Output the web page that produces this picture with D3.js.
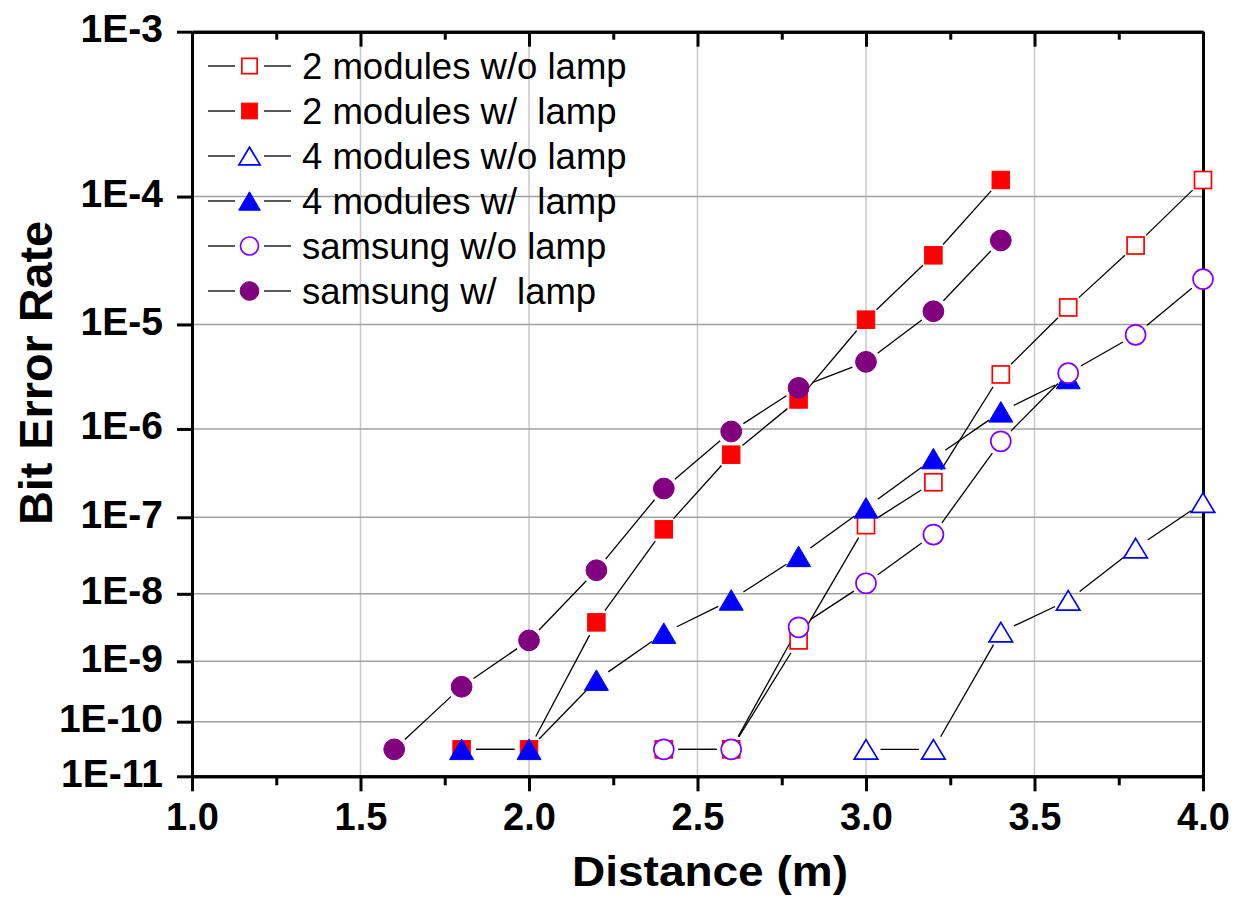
<!DOCTYPE html>
<html>
<head>
<meta charset="utf-8">
<script src="https://cdn.jsdelivr.net/npm/d3@7"></script>
<style>
  html, body { margin: 0; padding: 0; background: #fff; }
  svg { display: block; font-family: "Liberation Sans", Arial, sans-serif; }
</style>
</head>
<body>
<svg id="chart" width="1236" height="912"></svg>
<script>
// distance (m) and bit error rate for each curve
var dist2woLamp = [2.4, 2.6, 2.8, 3.0, 3.2, 3.4, 3.6, 3.8, 4.0];
var ber2woLamp = [3.2e-11, 3.2e-11, 2.1e-9, 8.0e-8, 2.6e-7, 3.5e-6, 1.4e-5, 4.4e-5, 1.3e-4];

var dist2wLamp = [1.8, 2.0, 2.2, 2.4, 2.6, 2.8, 3.0, 3.2, 3.4];
var ber2wLamp = [3.2e-11, 3.2e-11, 3.9e-9, 7.1e-8, 5.3e-7, 2.0e-6, 1.1e-5, 3.7e-5, 1.3e-4];

var dist4woLamp = [3.0, 3.2, 3.4, 3.6, 3.8, 4.0];
var ber4woLamp = [3.2e-11, 3.2e-11, 2.8e-9, 8.1e-9, 4.1e-8, 1.5e-7];

var dist4wLamp = [1.8, 2.0, 2.2, 2.4, 2.6, 2.8, 3.0, 3.2, 3.4, 3.6];
var ber4wLamp = [3.2e-11, 3.2e-11, 5.0e-10, 2.7e-9, 8.2e-9, 3.2e-8, 1.3e-7, 4.8e-7, 1.5e-6, 3.2e-6];

var distSamWo = [2.4, 2.6, 2.8, 3.0, 3.2, 3.4, 3.6, 3.8, 4.0];
var berSamWo = [3.2e-11, 3.2e-11, 3.3e-9, 1.4e-8, 6.1e-8, 7.4e-7, 3.6e-6, 8.1e-6, 2.4e-5];

var distSamW = [1.6, 1.8, 2.0, 2.2, 2.4, 2.6, 2.8, 3.0, 3.2, 3.4];
var berSamW = [3.2e-11, 3.9e-10, 2.1e-9, 2.1e-8, 2.2e-7, 9.4e-7, 2.6e-6, 4.6e-6, 1.3e-5, 4.8e-5];

var seriesNames = ['2 modules w/o lamp', '2 modules w/  lamp', '4 modules w/o lamp',
  '4 modules w/  lamp', 'samsung w/o lamp', 'samsung w/  lamp'];

var xMajorTicks = [1.0, 1.5, 2.0, 2.5, 3.0, 3.5, 4.0];
var xMinorTicks = [1.25, 1.75, 2.25, 2.75, 3.25, 3.75];
// exponents of the decade ticks: 1E-3 ... 1E-11
var yExponents = [3, 4, 5, 6, 7, 8, 9, 10, 11];

var series = [
  { name: seriesNames[0], xs: dist2woLamp, ys: ber2woLamp, shape: 'square', filled: false, color: '#ff0000' },
  { name: seriesNames[1], xs: dist2wLamp, ys: ber2wLamp, shape: 'square', filled: true, color: '#ff0000' },
  { name: seriesNames[2], xs: dist4woLamp, ys: ber4woLamp, shape: 'triangle', filled: false, color: '#0000ff' },
  { name: seriesNames[3], xs: dist4wLamp, ys: ber4wLamp, shape: 'triangle', filled: true, color: '#0000ff' },
  { name: seriesNames[4], xs: distSamWo, ys: berSamWo, shape: 'circle', filled: false, color: '#8000ff' },
  { name: seriesNames[5], xs: distSamW, ys: berSamW, shape: 'circle', filled: true, color: '#800080' }
];

var svg = d3.select('#chart');
var plotLeft = 192, plotRight = 1203, plotTop = 31.7, plotBottom = 776.3;

var x = d3.scaleLinear().domain([1, 4]).range([plotLeft, plotRight]);
// BER axis is log(-log(BER)): a log scale on the exponent
var yExp = d3.scaleLog().domain([3, 11]).range([plotTop, plotBottom]);
function y(ber) { return yExp(-Math.log10(ber)); }

svg.append('rect').attr('width', 1236).attr('height', 912).attr('fill', '#fff');

// grid
svg.append('g').selectAll('line')
  .data(xMajorTicks.slice(1, -1))
  .enter().append('line')
  .attr('x1', d => x(d)).attr('x2', d => x(d))
  .attr('y1', plotTop).attr('y2', plotBottom)
  .style('stroke', '#c8c8c8').style('stroke-width', 1.5);

svg.append('g').selectAll('line')
  .data(yExponents.slice(1, -1))
  .enter().append('line')
  .attr('x1', plotLeft).attr('x2', plotRight)
  .attr('y1', d => yExp(d)).attr('y2', d => yExp(d))
  .style('stroke', '#a0a0a0').style('stroke-width', 1.5);

// axes
function styleAxis(g) {
  g.select('.domain').style('stroke', '#000').style('stroke-width', 3);
  g.selectAll('.tick line').style('stroke', '#000').style('stroke-width', 3);
  g.selectAll('text').style('font-weight', 'bold').style('fill', '#000')
    .style('font-family', '"Liberation Sans", Arial, sans-serif');
}

svg.append('g').attr('transform', 'translate(0,' + plotBottom + ')')
  .call(d3.axisBottom(x).tickValues(xMinorTicks).tickSize(9).tickSizeOuter(0).tickFormat(''))
  .call(styleAxis);
svg.append('g').attr('transform', 'translate(0,' + plotBottom + ')')
  .call(d3.axisBottom(x).tickValues(xMajorTicks).tickSize(15).tickSizeOuter(0)
    .tickPadding(12).tickFormat(d3.format('.1f')))
  .call(styleAxis)
  .selectAll('text').style('font-size', '38px');

svg.append('g').attr('transform', 'translate(0,' + plotTop + ')')
  .call(d3.axisTop(x).tickValues(xMinorTicks).tickSize(-8).tickSizeOuter(0).tickFormat(''))
  .call(styleAxis);
svg.append('g').attr('transform', 'translate(0,' + plotTop + ')')
  .call(d3.axisTop(x).tickValues(xMajorTicks).tickSize(-15).tickSizeOuter(0).tickFormat(''))
  .call(styleAxis);

svg.append('g').attr('transform', 'translate(' + plotLeft + ',0)')
  .call(d3.axisLeft(yExp).tickValues(yExponents).tickSize(15).tickSizeOuter(0)
    .tickPadding(14).tickFormat(d => '1E-' + d))
  .call(styleAxis)
  .selectAll('text').style('font-size', '39px').attr('dy', '0.25em');

svg.append('g').attr('transform', 'translate(' + plotRight + ',0)')
  .call(d3.axisRight(yExp).tickValues([]).tickSizeOuter(0))
  .call(styleAxis);

// axis titles
svg.append('text')
  .attr('transform', 'translate(52,373) rotate(-90)')
  .attr('text-anchor', 'middle')
  .attr('textLength', 304).attr('lengthAdjust', 'spacingAndGlyphs')
  .style('font-size', '47px').style('font-weight', 'bold')
  .text('Bit Error Rate');

svg.append('text')
  .attr('x', 710).attr('y', 886)
  .attr('text-anchor', 'middle')
  .attr('textLength', 276).attr('lengthAdjust', 'spacingAndGlyphs')
  .style('font-size', '43px').style('font-weight', 'bold')
  .text('Distance (m)');

// markers
function drawMarker(g, s, cx, cy, k) {
  var fill = s.filled ? s.color : '#fff';
  var w = s.filled ? 1 : 1.7;
  if (s.shape === 'square') {
    var a = (s.filled ? 17.5 : 17) * k;
    g.append('rect').attr('x', cx - a / 2).attr('y', cy - a / 2)
      .attr('width', a).attr('height', a)
      .style('fill', fill).style('stroke', s.color).style('stroke-width', w);
  } else if (s.shape === 'circle') {
    var r = (s.filled ? 10.4 : 10) * k;
    g.append('circle').attr('cx', cx).attr('cy', cy).attr('r', r)
      .style('fill', fill).style('stroke', s.color).style('stroke-width', w);
  } else {
    var tw = (s.filled ? 24 : 23.5) * k, th = (s.filled ? 20.5 : 19.5) * k;
    g.append('path')
      .attr('d', 'M' + cx + ',' + (cy - th / 2) + 'L' + (cx + tw / 2) + ',' + (cy + th / 2) +
        'L' + (cx - tw / 2) + ',' + (cy + th / 2) + 'Z')
      .style('fill', fill).style('stroke', s.color).style('stroke-width', w);
  }
}

var gap = 14.5;
var lineLayer = svg.append('g');
var markerLayer = svg.append('g');

series.forEach(function(s) {
  var pts = s.xs.map((d, i) => [x(d), y(s.ys[i])]);
  d3.pairs(pts).forEach(function(p) {
    var dx = p[1][0] - p[0][0], dy = p[1][1] - p[0][1];
    var len = Math.sqrt(dx * dx + dy * dy);
    if (len <= 2 * gap) return;
    var ux = dx / len, uy = dy / len;
    lineLayer.append('line')
      .attr('x1', p[0][0] + ux * gap).attr('y1', p[0][1] + uy * gap)
      .attr('x2', p[1][0] - ux * gap).attr('y2', p[1][1] - uy * gap)
      .style('stroke', '#000').style('stroke-width', 1.3);
  });
  pts.forEach(function(p) { drawMarker(markerLayer, s, p[0], p[1], 1); });
});

// legend
var legend = svg.append('g');
series.forEach(function(s, i) {
  var cy = 66 + i * 45;
  legend.append('line').attr('x1', 208).attr('x2', 235).attr('y1', cy).attr('y2', cy)
    .style('stroke', '#000').style('stroke-width', 1.3);
  legend.append('line').attr('x1', 264).attr('x2', 291).attr('y1', cy).attr('y2', cy)
    .style('stroke', '#000').style('stroke-width', 1.3);
  drawMarker(legend, s, 249.5, cy, 0.9);
  legend.append('text')
    .attr('x', 302).attr('y', cy + 12.5)
    .style('font-size', '36.5px').style('white-space', 'pre').style('fill', '#000')
    .text(s.name);
});
</script>
</body>
</html>
